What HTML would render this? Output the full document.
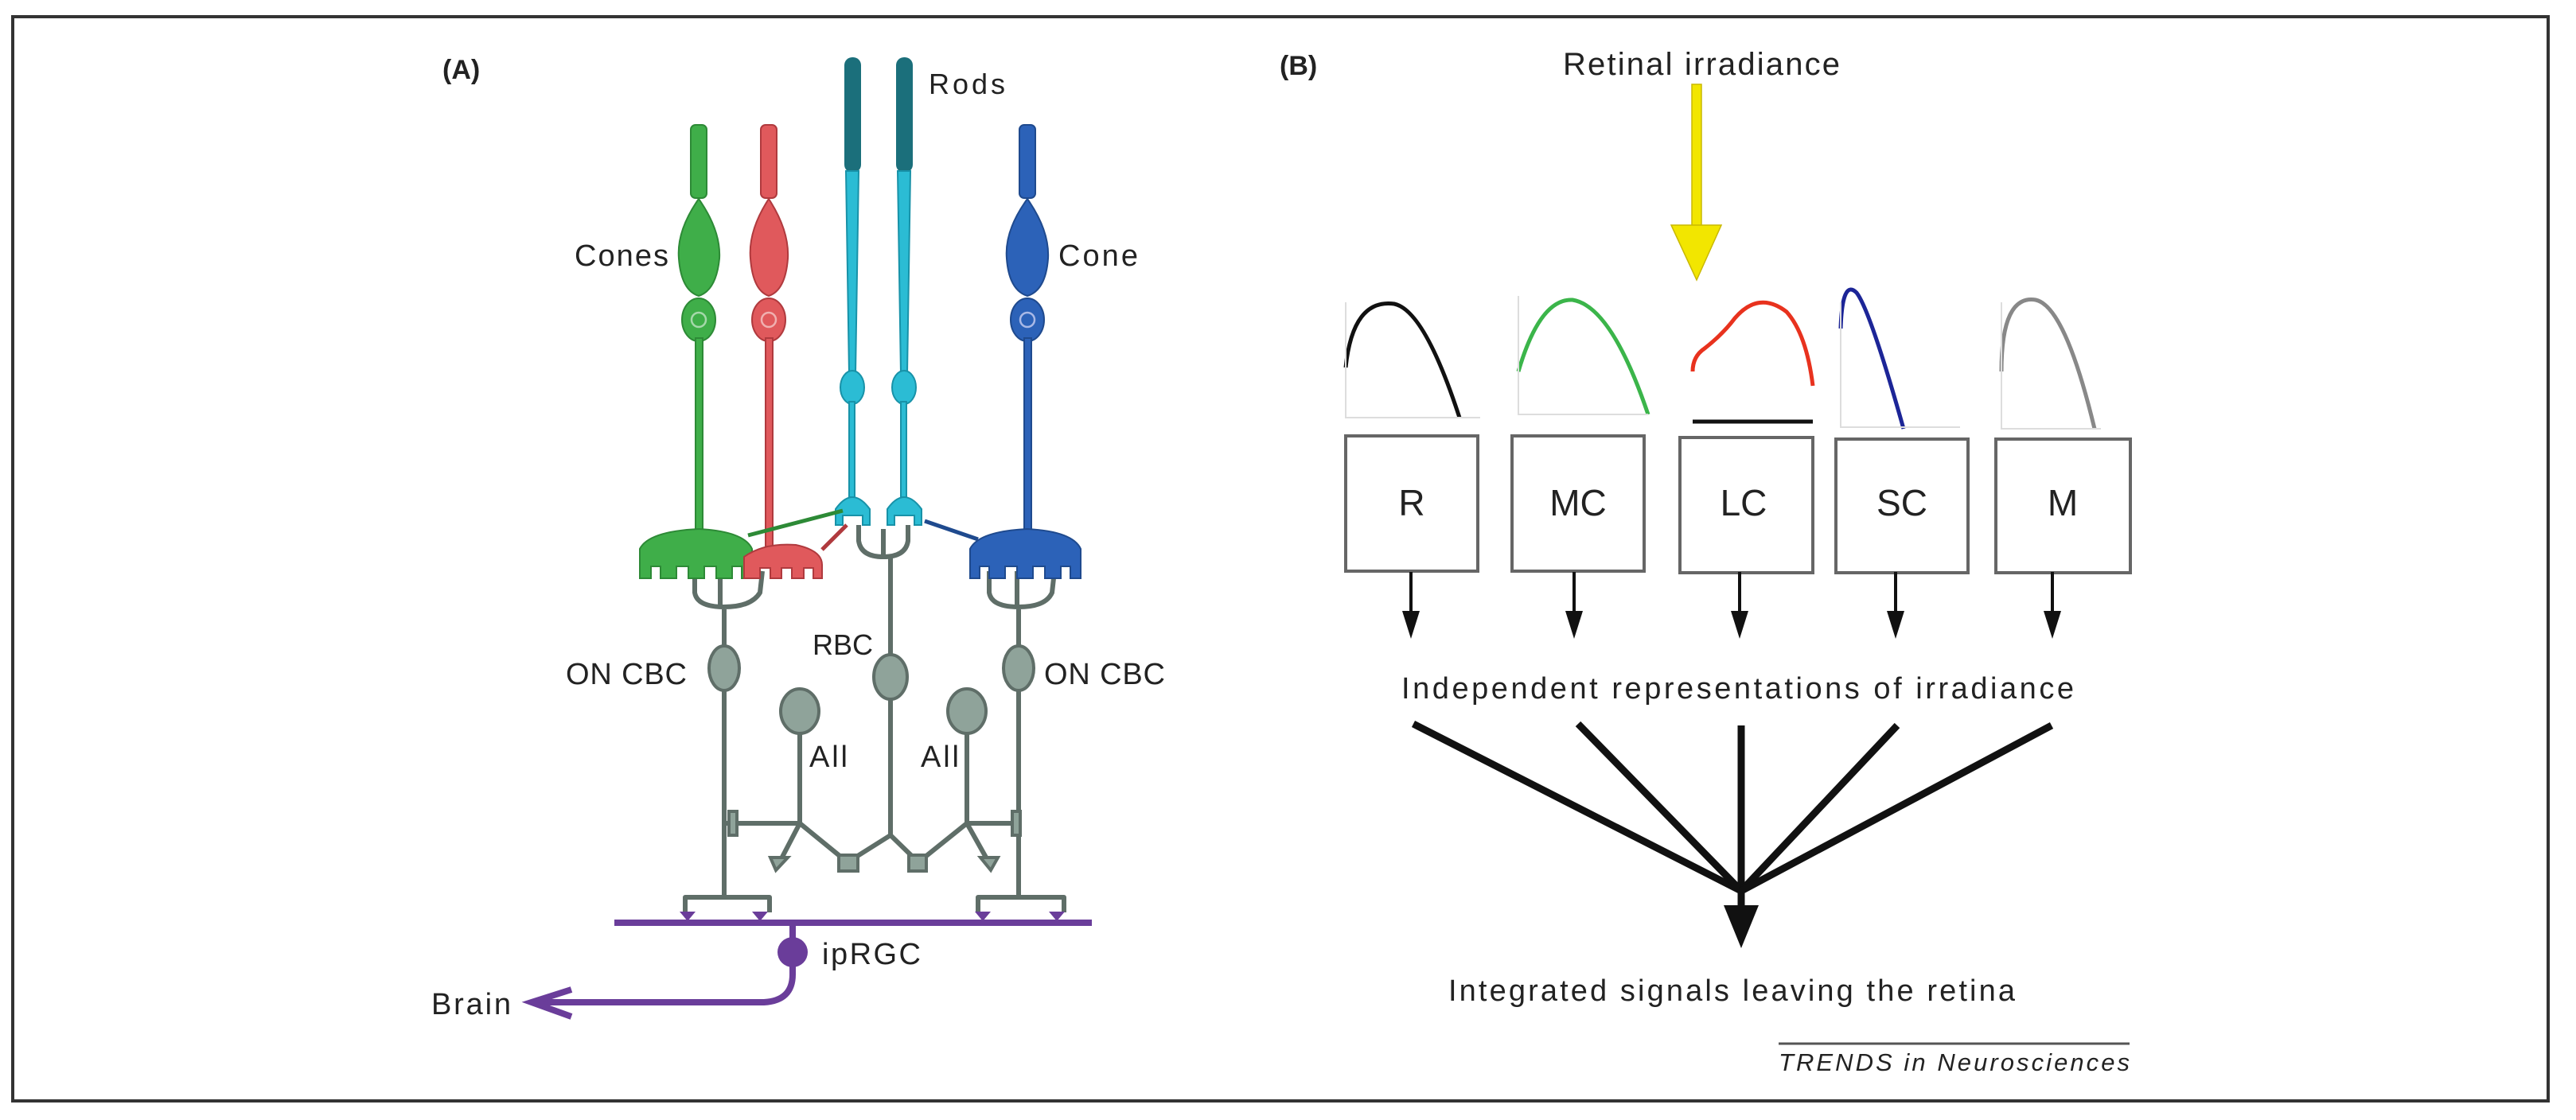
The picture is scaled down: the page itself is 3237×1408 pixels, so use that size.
<!DOCTYPE html>
<html><head><meta charset="utf-8"><style>
html,body{margin:0;padding:0;background:#fff;}
svg{display:block;}
text{font-family:"Liberation Sans",sans-serif;fill:#222;}
</style></head><body>
<svg width="3237" height="1408" viewBox="0 0 3237 1408" xmlns="http://www.w3.org/2000/svg">
<rect x="0" y="0" width="3237" height="1408" fill="#fff"/>
<rect x="16" y="21" width="3186" height="1363" fill="none" stroke="#333" stroke-width="4"/>

<!-- Panel A labels -->
<text x="556" y="99" font-size="34" font-weight="bold">(A)</text>
<text x="1167" y="118" font-size="36" textLength="96">Rods</text>
<text x="722" y="334" font-size="38" textLength="118">Cones</text>
<text x="1330" y="334" font-size="38" textLength="100">Cone</text>
<text x="711" y="860" font-size="38" textLength="152">ON CBC</text>
<text x="1312" y="860" font-size="38" textLength="152">ON CBC</text>
<text x="1021" y="823" font-size="36" textLength="76">RBC</text>
<text x="1017" y="964" font-size="38" textLength="48">All</text>
<text x="1157" y="964" font-size="38" textLength="48">All</text>
<text x="1033" y="1212" font-size="38" textLength="124">ipRGC</text>
<text x="542" y="1275" font-size="38" textLength="100">Brain</text>

<!-- bipolar & amacrine cells -->
<g stroke="#5f6e68" stroke-width="6" fill="none" stroke-linejoin="round">
 <!-- left CBC -->
 <path d="M873 718 L873 745 Q876 763 910 763 Q944 763 955 745 L958 718 M905 718 L905 763 M910 763 L910 1128"/>
 <path d="M861 1147 L861 1128 L967 1128 L967 1147"/>
 <!-- right CBC -->
 <path d="M1243 718 L1243 745 Q1246 763 1280 763 Q1314 763 1322 745 L1325 718 M1278 718 L1278 763 M1280 763 L1280 1128"/>
 <path d="M1229 1147 L1229 1128 L1337 1128 L1337 1147"/>
 <!-- RBC -->
 <path d="M1079 660 L1079 680 Q1082 700 1110 700 Q1138 700 1141 680 L1141 660 M1110 665 L1110 700 M1119 700 L1119 1050 L1065 1084 M1119 1050 L1154 1084"/>
 <!-- AII -->
 <path d="M1005 915 L1005 1035 L910 1035 M1005 1035 L1065 1084 M1005 1035 L979 1085"/>
 <path d="M1215 915 L1215 1035 L1280 1035 M1215 1035 L1154 1084 M1215 1035 L1243 1085"/>
</g>
<g fill="#8fa39a" stroke="#5f6e68" stroke-width="4">
 <ellipse cx="910" cy="840" rx="19" ry="28"/>
 <ellipse cx="1280" cy="840" rx="19" ry="28"/>
 <ellipse cx="1119" cy="851" rx="21" ry="28"/>
 <ellipse cx="1005" cy="894" rx="24" ry="28"/>
 <ellipse cx="1215" cy="894" rx="24" ry="28"/>
 <rect x="1054" y="1075" width="24" height="20"/>
 <rect x="1142" y="1075" width="22" height="20"/>
 <rect x="916" y="1020" width="10" height="30"/>
 <rect x="1272" y="1020" width="10" height="30"/>
 <path d="M968 1078 L990 1078 L975 1094 Z"/>
 <path d="M1232 1078 L1254 1078 L1245 1094 Z"/>
</g>

<!-- green cone -->
<g fill="#3fae49" stroke="#2d8a36" stroke-width="2">
 <rect x="868" y="157" width="20" height="92" rx="6"/>
 <path d="M878 250 Q850 290 853 325 Q856 365 878 372 Q900 365 904 325 Q906 290 878 250 Z"/>
 <ellipse cx="878" cy="402" rx="21" ry="27"/>
 <rect x="874" y="425" width="9" height="245"/>
 <path d="M804 727 L804 690 Q815 668 878 665 Q935 668 945 690 L945 727 L932 727 L932 712 L920 712 L920 727 L900 727 L900 712 L885 712 L885 727 L865 727 L865 712 L850 712 L850 727 L830 727 L830 712 L818 712 L818 727 Z"/>
</g>
<circle cx="878" cy="402" r="9" fill="none" stroke="#a5d8aa" stroke-width="2.5"/>
<!-- red cone -->
<g fill="#e0595c" stroke="#b03a3e" stroke-width="2">
 <rect x="956" y="157" width="20" height="92" rx="6"/>
 <path d="M966 250 Q940 290 943 325 Q946 365 966 372 Q987 365 990 325 Q992 290 966 250 Z"/>
 <ellipse cx="966" cy="402" rx="21" ry="27"/>
 <rect x="962" y="425" width="9" height="262"/>
 <path d="M935 727 L935 700 Q960 682 1000 685 Q1033 692 1033 710 L1033 727 L1022 727 L1022 714 L1010 714 L1010 727 L995 727 L995 714 L982 714 L982 727 L968 727 L968 714 L955 714 L955 727 Z"/>
</g>
<circle cx="966" cy="402" r="9" fill="none" stroke="#f0b0b0" stroke-width="2.5"/>
<!-- rods -->
<g fill="#1b6f7b"><rect x="1061" y="72" width="21" height="145" rx="10"/><rect x="1126" y="72" width="21" height="145" rx="10"/></g>
<g fill="#2bbcd4" stroke="#1892a8" stroke-width="2">
 <path d="M1063 215 L1079 215 L1075 470 L1067 470 Z"/>
 <path d="M1128 215 L1144 215 L1140 470 L1132 470 Z"/>
 <ellipse cx="1071" cy="487" rx="15" ry="21"/><ellipse cx="1136" cy="487" rx="15" ry="21"/>
 <rect x="1067" y="505" width="7" height="120"/><rect x="1132" y="505" width="7" height="120"/>
 <path d="M1050 660 L1050 640 Q1071 610 1093 640 L1093 660 L1084 660 L1084 648 L1059 648 L1059 660 Z"/>
 <path d="M1115 660 L1115 640 Q1136 610 1158 640 L1158 660 L1149 660 L1149 648 L1124 648 L1124 660 Z"/>
</g>
<!-- blue cone -->
<g fill="#2c62b8" stroke="#1f4a8e" stroke-width="2">
 <rect x="1281" y="157" width="20" height="92" rx="6"/>
 <path d="M1291 250 Q1262 290 1265 325 Q1268 365 1291 372 Q1314 365 1317 325 Q1319 290 1291 250 Z"/>
 <ellipse cx="1291" cy="402" rx="21" ry="27"/>
 <rect x="1287" y="425" width="9" height="245"/>
 <path d="M1219 727 L1219 690 Q1230 668 1291 665 Q1348 668 1358 690 L1358 727 L1345 727 L1345 712 L1333 712 L1333 727 L1313 727 L1313 712 L1298 712 L1298 727 L1278 727 L1278 712 L1263 712 L1263 727 L1243 727 L1243 712 L1231 712 L1231 727 Z"/>
</g>
<circle cx="1291" cy="402" r="9" fill="none" stroke="#a9b9e6" stroke-width="2.5"/>
<line x1="940" y1="673" x2="1059" y2="642" stroke="#2d8a36" stroke-width="5"/>
<line x1="1033" y1="691" x2="1064" y2="660" stroke="#b03a3e" stroke-width="5"/>
<line x1="1162" y1="655" x2="1229" y2="678" stroke="#1f4a8e" stroke-width="5"/>

<!-- purple -->
<g stroke="#6a3d9a" stroke-width="8" fill="none">
 <line x1="772" y1="1160" x2="1372" y2="1160"/>
 <path d="M996 1160 L996 1190 M996 1200 L996 1225 Q996 1258 960 1260 L670 1260"/>
 <path d="M718 1244 L668 1260 L718 1278"/>
</g>
<g fill="#6a3d9a"><circle cx="996" cy="1197" r="19"/>
<path d="M854 1146 l10 12 l10 -12z M945 1146 l10 12 l10 -12z M1225 1146 l10 12 l10 -12z M1318 1146 l10 12 l10 -12z"/></g>

<!-- Panel B -->
<text x="1608" y="94" font-size="34" font-weight="bold">(B)</text>
<text x="1964" y="94" font-size="40" textLength="348">Retinal irradiance</text>
<rect x="2126" y="106" width="12" height="180" fill="#f2e600" stroke="#c9b800" stroke-width="1.5"/>
<path d="M2100 283 L2163 283 L2132 352 Z" fill="#f2e600" stroke="#c9b800" stroke-width="1.5"/>

<g fill="none" stroke-width="5">
 <path d="M1691 462 Q1700 375 1752 382 Q1790 390 1834 525" stroke="#111"/>
 <path d="M1908 467 Q1935 375 1976 377 Q2025 385 2071 521" stroke="#3bb54a"/>
 <path d="M2127 467 Q2127 448 2142 438 Q2165 420 2180 400 Q2210 365 2245 392 Q2270 420 2278 485" stroke="#e8321e"/>
 <path d="M2313 413 Q2315 350 2333 368 Q2350 390 2392 539" stroke="#1c2597"/>
 <path d="M2515 467 Q2515 370 2558 377 Q2595 385 2632 539" stroke="#888"/>
</g>
<g stroke="#ddd" stroke-width="2" fill="none">
 <path d="M1691 380 L1691 525 L1860 525"/>
 <path d="M1908 372 L1908 521 L2071 521"/>
 <path d="M2313 380 L2313 537 L2463 537"/>
 <path d="M2515 380 L2515 539 L2640 539"/>
</g>
<line x1="2127" y1="530" x2="2278" y2="530" stroke="#111" stroke-width="5"/>

<g fill="#fff" stroke="#666" stroke-width="4">
 <rect x="1691" y="548" width="166" height="170"/>
 <rect x="1900" y="548" width="166" height="170"/>
 <rect x="2111" y="550" width="167" height="170"/>
 <rect x="2307" y="552" width="166" height="168"/>
 <rect x="2508" y="552" width="169" height="168"/>
</g>
<g font-size="46" text-anchor="middle">
 <text x="1774" y="648">R</text><text x="1983" y="648">MC</text><text x="2191" y="648">LC</text><text x="2390" y="648">SC</text><text x="2592" y="648">M</text>
</g>
<g stroke="#111" stroke-width="4"><line x1="1773" y1="719" x2="1773" y2="775"/><line x1="1978" y1="719" x2="1978" y2="775"/><line x1="2186" y1="719" x2="2186" y2="775"/><line x1="2382" y1="719" x2="2382" y2="775"/><line x1="2579" y1="719" x2="2579" y2="775"/></g>
<g fill="#111"><path d="M1762 768 L1784 768 L1773 803Z M1967 768 L1989 768 L1978 803Z M2175 768 L2197 768 L2186 803Z M2371 768 L2393 768 L2382 803Z M2568 768 L2590 768 L2579 803Z"/></g>
<text x="1761" y="878" font-size="38" textLength="845">Independent representations of irradiance</text>
<g stroke="#111" stroke-width="9">
 <line x1="1776" y1="910" x2="2188" y2="1120"/>
 <line x1="1983" y1="910" x2="2188" y2="1120"/>
 <line x1="2188" y1="912" x2="2188" y2="1150"/>
 <line x1="2384" y1="912" x2="2188" y2="1120"/>
 <line x1="2578" y1="912" x2="2188" y2="1120"/>
</g>
<path d="M2166 1138 L2210 1138 L2188 1192 Z" fill="#111"/>
<text x="1820" y="1258" font-size="38" textLength="712">Integrated signals leaving the retina</text>
<line x1="2235" y1="1312" x2="2676" y2="1312" stroke="#555" stroke-width="3"/>
<text x="2235" y="1346" font-size="31" font-style="italic" fill="#333" textLength="441">TRENDS in Neurosciences</text>
</svg>
</body></html>
